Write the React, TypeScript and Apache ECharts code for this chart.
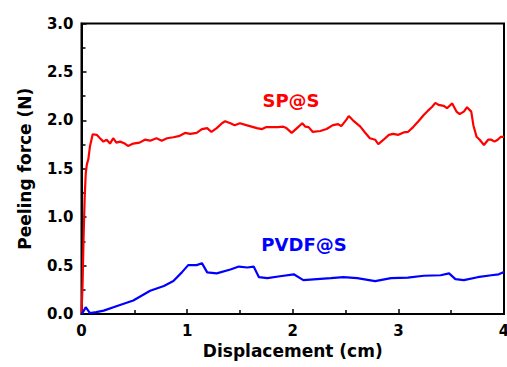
import React, { useEffect, useRef } from "react";
import * as echarts from "echarts";

const spX = [0, 0.01, 0.02, 0.03, 0.04, 0.05, 0.065, 0.08, 0.106, 0.144, 0.175, 0.207, 0.238, 0.27, 0.30, 0.33, 0.365, 0.41, 0.44, 0.49, 0.55, 0.60, 0.65, 0.71, 0.76, 0.81, 0.87, 0.93, 0.98, 1.03, 1.09, 1.14, 1.19, 1.23, 1.28, 1.33, 1.36, 1.41, 1.45, 1.50, 1.56, 1.61, 1.66, 1.71, 1.75, 1.82, 1.86, 1.91, 1.94, 1.99, 2.04, 2.09, 2.12, 2.15, 2.19, 2.26, 2.32, 2.38, 2.43, 2.46, 2.51, 2.53, 2.57, 2.64, 2.68, 2.73, 2.78, 2.81, 2.86, 2.91, 2.95, 3.00, 3.05, 3.09, 3.14, 3.19, 3.24, 3.28, 3.32, 3.35, 3.38, 3.43, 3.46, 3.51, 3.55, 3.58, 3.62, 3.65, 3.69, 3.71, 3.74, 3.77, 3.81, 3.85, 3.88, 3.91, 3.94, 3.97, 4.0];
const spY = [0, 0.3, 0.8, 1.2, 1.45, 1.54, 1.6, 1.73, 1.856, 1.85, 1.815, 1.78, 1.8, 1.76, 1.815, 1.77, 1.78, 1.76, 1.735, 1.76, 1.77, 1.8, 1.79, 1.815, 1.79, 1.815, 1.825, 1.84, 1.87, 1.86, 1.87, 1.91, 1.92, 1.88, 1.92, 1.97, 1.99, 1.97, 1.95, 1.97, 1.95, 1.935, 1.92, 1.91, 1.93, 1.93, 1.93, 1.935, 1.92, 1.87, 1.92, 1.97, 1.935, 1.93, 1.88, 1.89, 1.91, 1.95, 1.96, 1.94, 2.01, 2.045, 2.0, 1.935, 1.88, 1.815, 1.8, 1.755, 1.8, 1.85, 1.86, 1.85, 1.875, 1.88, 1.93, 1.99, 2.055, 2.1, 2.14, 2.18, 2.16, 2.15, 2.125, 2.175, 2.09, 2.065, 2.09, 2.135, 2.09, 1.95, 1.83, 1.8, 1.745, 1.8, 1.8, 1.78, 1.8, 1.83, 1.83];

const pvdfX = [0, 0.02, 0.04, 0.06, 0.08, 0.14, 0.21, 0.33, 0.49, 0.65, 0.78, 0.87, 0.95, 1.01, 1.09, 1.14, 1.19, 1.28, 1.41, 1.49, 1.57, 1.63, 1.68, 1.76, 1.88, 2.01, 2.1, 2.23, 2.36, 2.48, 2.61, 2.78, 2.93, 3.09, 3.24, 3.4, 3.48, 3.54, 3.62, 3.75, 3.88, 3.95, 4.0];
const pvdfY = [0, 0.03, 0.07, 0.04, 0.01, 0.02, 0.035, 0.08, 0.14, 0.24, 0.29, 0.34, 0.43, 0.505, 0.505, 0.525, 0.43, 0.42, 0.46, 0.49, 0.48, 0.49, 0.38, 0.37, 0.39, 0.41, 0.35, 0.36, 0.37, 0.38, 0.37, 0.34, 0.37, 0.375, 0.395, 0.4, 0.42, 0.36, 0.35, 0.38, 0.4, 0.41, 0.435];

const xTicks = { min: 0, max: 4, interval: 1 };
const yTicks = { min: 0, max: 3, interval: 0.5 };

const FONT = "DejaVu Sans";

export default function App() {
  const ref = useRef<HTMLDivElement>(null);
  useEffect(() => {
    document.body.style.margin = "0";
    const chart = echarts.init(ref.current!, null, { renderer: "svg" });
    const axisCommon = {
      axisLine: { show: true, onZero: false, lineStyle: { color: "#000", width: 2 } },
      axisTick: { show: true, inside: true, length: 5, lineStyle: { color: "#000", width: 1.5 } },
      minorTick: { show: true, splitNumber: 2, length: 4, lineStyle: { color: "#000", width: 1.5 } },
      splitLine: { show: false },
      minorSplitLine: { show: false },
      nameLocation: "middle" as const,
      nameTextStyle: { fontFamily: FONT, fontWeight: "bold" as const, fontSize: 17, color: "#000" },
    };
    chart.setOption({
      animation: false,
      grid: { left: 81.5, right: 3, top: 23.5, bottom: 53, show: true, borderColor: "#000", borderWidth: 2, backgroundColor: "transparent", containLabel: false, outerBoundsMode: "none" },
      xAxis: {
        type: "value",
        ...xTicks,
        ...axisCommon,
        name: "Displacement (cm)",
        nameGap: 25,
        axisLabel: { fontFamily: FONT, fontWeight: "bold", fontSize: 15, color: "#000", margin: 9 },
      },
      yAxis: {
        type: "value",
        ...yTicks,
        ...axisCommon,
        name: "Peeling force (N)",
        nameGap: 48,
        axisLabel: { fontFamily: FONT, fontWeight: "bold", fontSize: 15, color: "#000", margin: 8, formatter: (v: number) => v.toFixed(1) },
      },
      series: [
        {
          type: "line",
          name: "SP@S",
          data: spX.map((x, i) => [x, spY[i]]),
          showSymbol: false,
          lineStyle: { color: "#ff0000", width: 2.2 },
          itemStyle: { color: "#ff0000" },
        },
        {
          type: "line",
          name: "PVDF@S",
          data: pvdfX.map((x, i) => [x, pvdfY[i]]),
          showSymbol: false,
          lineStyle: { color: "#0000ff", width: 2.2 },
          itemStyle: { color: "#0000ff" },
        },
      ],
      graphic: [
        { type: "text", x: 291, y: 100, style: { text: "SP@S", fill: "#ff0000", font: `bold 18px "${FONT}"`, textAlign: "center", textVerticalAlign: "middle" } },
        { type: "text", x: 304, y: 244, style: { text: "PVDF@S", fill: "#0000ff", font: `bold 18px "${FONT}"`, textAlign: "center", textVerticalAlign: "middle" } },
      ],
    });
    return () => chart.dispose();
  }, []);
  return <div ref={ref} style={{ width: 507, height: 367, position: "absolute", left: 0, top: 0 }} />;
}
